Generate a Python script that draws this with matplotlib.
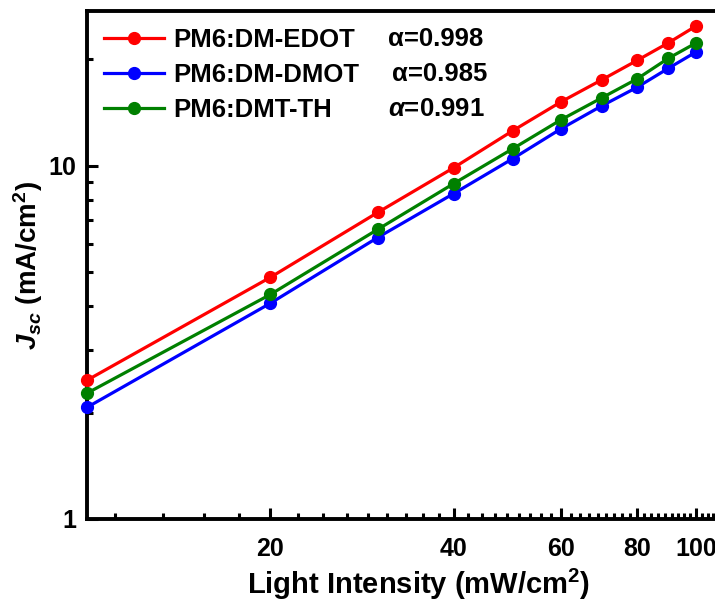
import numpy as np
import matplotlib
matplotlib.use("Agg")
import matplotlib.pyplot as plt
from matplotlib.ticker import FixedLocator, NullFormatter

# light intensity (mW/cm2)
intensity = [10, 20, 30, 40, 50, 60, 70, 80, 90, 100]
# Jsc (mA/cm2)
jsc_edot = [2.47, 4.83, 7.37, 9.87, 12.56, 15.16, 17.50, 19.86, 22.26, 24.86]
jsc_dmot = [2.07, 4.08, 6.26, 8.34, 10.47, 12.72, 14.77, 16.67, 18.86, 20.99]
jsc_th = [2.27, 4.32, 6.60, 8.90, 11.17, 13.49, 15.56, 17.61, 20.13, 22.26]

names = ["PM6:DM-EDOT", "PM6:DM-DMOT", "PM6:DMT-TH"]
alphas = ["0.998", "0.985", "0.991"]
colors = ["#ff0000", "#0000ff", "#008000"]

plt.rcParams["font.family"] = ["Liberation Sans", "DejaVu Sans"]
plt.rcParams["font.weight"] = "bold"
plt.rcParams["mathtext.fontset"] = "custom"
plt.rcParams["mathtext.rm"] = "Liberation Sans:bold"
plt.rcParams["mathtext.bf"] = "Liberation Sans:bold"
plt.rcParams["mathtext.it"] = "Liberation Sans:bold:italic"
plt.rcParams["mathtext.bfit"] = "Liberation Sans:bold:italic"

fig = plt.figure(figsize=(7.15, 6.05), dpi=100)
ax = fig.add_axes([87 / 715, 86 / 605, 632 / 715, 508 / 605])

series = [jsc_edot, jsc_dmot, jsc_th]
for name, ys, c in zip(names, series, colors):
    ax.plot(intensity, ys, "-o", color=c, lw=2.3, ms=8.5, label=name,
            clip_on=False, zorder=3)

ax.set_xscale("log")
ax.set_yscale("log")
ax.set_xlim(10, 109)
ax.set_ylim(1, 27.4)

ax.xaxis.set_major_locator(FixedLocator([20, 40, 60, 80, 100]))
ax.xaxis.set_major_formatter(plt.FuncFormatter(lambda v, p: f"{v:g}"))
step = 20 / 9
xminor = [20 + k * step for k in range(-4, 40) if k % 9 != 0]
ax.xaxis.set_minor_locator(FixedLocator([v for v in xminor if 10 < v < 109]))
ax.xaxis.set_minor_formatter(NullFormatter())

ax.yaxis.set_major_locator(FixedLocator([1, 10]))
ax.yaxis.set_major_formatter(plt.FuncFormatter(lambda v, p: f"{v:g}"))
ax.yaxis.set_minor_locator(FixedLocator([2, 3, 4, 5, 6, 7, 8, 9, 20]))
ax.yaxis.set_minor_formatter(NullFormatter())

for s in ax.spines.values():
    s.set_linewidth(2.8)
ax.tick_params(which="both", direction="in", width=2.2, labelsize=18,
               top=False, right=False)
ax.tick_params(which="major", length=8)
ax.tick_params(which="minor", length=4.5)
ax.tick_params(axis="x", pad=13)
ax.tick_params(axis="y", pad=8)

ax.set_xlabel("Light Intensity (mW/cm$^{2}$)", fontsize=21, fontweight="bold",
              labelpad=5)
ax.xaxis.set_label_coords(0.525, -0.095)
ax.set_ylabel(r"$\mathbfit{J}_{\mathbfit{sc}}$ (mA/cm$^{2}$)", fontsize=20,
              fontweight="bold", labelpad=2)

leg = ax.legend(loc="upper left", bbox_to_anchor=(0.0, 1.0), frameon=False,
                fontsize=18.5, handlelength=2.35, handletextpad=0.35,
                labelspacing=0.43, borderaxespad=0.25)

for i, (a, c) in enumerate(zip(alphas, colors)):
    greek = r"$\mathit{\alpha}$" if i == 2 else "α"
    xoff = 305 if i == 1 else 301
    ax.text(xoff / 632, 1 - (28 + 35 * i) / 508, greek + "=" + a,
            transform=ax.transAxes, fontsize=18.5, fontweight="bold",
            va="center", ha="left")

fig.savefig("out.png", dpi=100)
